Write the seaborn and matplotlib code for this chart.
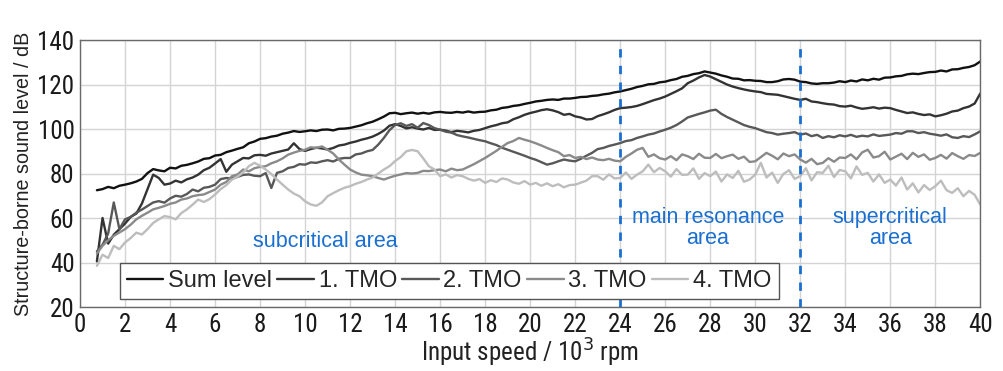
import numpy as np
import pandas as pd
import matplotlib
matplotlib.use("Agg")
import matplotlib.pyplot as plt
import seaborn as sns
from matplotlib import font_manager

# Input speed in 10^3 rpm (0.25 steps from 0.75 to 40)
speed = np.arange(0.75, 40.001, 0.25)

sum_level = [
    72.5, 73.0, 74.0, 73.4, 74.5,
    75.0, 75.6, 76.4, 77.6, 80.2, 82.0, 81.4, 81.0,
    82.6, 82.3, 83.5, 83.9, 84.6, 85.4, 86.6, 86.9,
    88.1, 88.4, 89.6, 90.3, 91.1, 91.8, 93.6, 94.4,
    95.6, 95.9, 96.6, 97.0, 97.9, 98.4, 99.1, 98.7,
    99.0, 99.4, 99.1, 99.7, 99.8, 99.4, 100.1, 100.2,
    100.5, 101.1, 101.7, 102.6, 103.3, 104.4, 105.6, 107.1,
    107.3, 106.7, 107.1, 107.4, 106.9, 107.3, 106.9, 107.5,
    107.7, 107.4, 107.3, 107.7, 107.4, 107.9, 107.4, 107.7,
    107.8, 108.4, 108.7, 109.5, 109.8, 110.4, 110.7, 111.3,
    111.8, 112.4, 112.7, 113.1, 113.3, 113.1, 113.7, 113.7,
    114.0, 114.4, 114.5, 114.9, 115.1, 115.6, 115.9, 116.5,
    116.9, 117.5, 118.1, 118.9, 119.4, 120.1, 120.3, 121.0,
    121.3, 122.0, 122.5, 123.5, 123.9, 124.7, 125.1, 125.9,
    125.4, 124.9, 124.1, 123.5, 122.7, 122.6, 121.9, 122.0,
    121.7, 121.6, 121.1, 121.1, 121.5, 122.3, 122.5, 122.2,
    121.3, 121.1, 120.5, 120.3, 120.6, 120.6, 120.9, 121.5,
    121.1, 121.8, 121.4, 122.3, 121.9, 122.6, 122.2, 123.1,
    123.2, 123.7, 123.9, 124.6, 124.9, 124.7, 125.2, 125.6,
    125.7, 126.3, 125.9, 126.8, 126.9, 127.5, 127.9, 128.7,
    130.4,
]

tmo_1 = [
    40.5, 60.0, 48.5, 52.5, 55.0,
    57.5, 60.5, 62.0, 66.5, 73.0, 79.5, 78.0, 75.0,
    75.5, 76.8, 76.0, 77.4, 78.2, 79.5, 81.5, 82.6,
    84.5, 86.5, 80.8, 84.0, 85.5, 87.0, 86.8, 88.2,
    88.4, 88.0, 89.0, 89.6, 90.2, 90.8, 93.6, 91.0,
    90.2, 91.0, 91.6, 91.3, 90.8, 91.5, 92.6, 93.0,
    93.8, 94.4, 95.2, 95.8, 96.6, 97.8, 99.3, 101.5,
    102.2, 101.4, 100.3, 100.8, 100.2, 99.8, 100.5, 99.6,
    99.7, 99.3, 98.6, 99.2, 98.9, 98.5, 99.2, 99.6,
    100.4, 101.2, 101.8, 102.6, 103.0, 104.4, 105.3, 106.4,
    107.2, 107.8, 108.5, 108.9, 108.4, 107.6, 106.4, 106.8,
    105.7, 105.2, 104.3, 104.5, 105.8, 106.6, 107.5, 108.6,
    109.4, 109.6, 109.9, 110.4, 111.2, 112.1, 113.0, 113.7,
    114.6, 115.8, 117.0, 118.3, 120.6, 121.8, 123.2, 124.3,
    123.6, 122.4, 121.2, 120.0, 119.1, 118.4, 117.8, 117.3,
    116.9, 116.6, 115.8, 115.6, 115.4, 114.8, 114.2, 113.6,
    113.1, 113.6, 112.4, 112.1, 111.6, 111.2, 111.0, 110.3,
    110.1, 110.5, 109.7, 109.1, 109.4, 109.8, 109.2, 109.6,
    109.4, 108.6, 107.9, 107.2, 107.5, 106.8, 106.3, 106.6,
    105.7, 106.2, 106.9, 107.9, 108.3, 109.4, 110.1, 111.5,
    116.0,
]

tmo_2 = [
    45.0, 48.0, 53.0, 67.0, 55.0,
    59.4, 60.5, 62.4, 63.8, 65.4, 67.0, 67.6, 66.9,
    68.8, 70.0, 69.6, 70.8, 72.8, 72.0, 73.6, 74.0,
    75.0, 77.5, 78.0, 77.8, 78.5, 79.4, 79.6, 79.0,
    78.8, 80.2, 73.5, 80.3, 81.0, 82.5, 83.0, 84.2,
    84.0, 85.0, 84.8, 85.5, 86.0, 85.4, 86.6, 87.0,
    87.0, 88.6, 89.0, 90.0, 90.6, 93.0, 96.0, 99.5,
    101.8, 102.6, 101.4, 102.2, 100.6, 102.7, 101.8, 100.4,
    99.7, 98.8, 98.4, 97.3, 96.7, 96.2, 95.6, 95.0,
    94.5, 93.6, 92.8, 91.6, 90.7, 89.8, 88.9, 88.0,
    87.0, 86.2, 85.1, 84.0, 84.6, 85.5, 86.3, 85.8,
    85.5, 86.6, 88.0, 89.3, 91.0, 91.5, 92.4, 93.0,
    93.7, 94.6, 95.0, 96.0, 96.7, 97.5, 98.0, 98.9,
    99.7, 100.6, 101.8, 103.4, 105.2, 106.0, 106.8, 107.5,
    108.3, 108.7, 106.8, 105.4, 104.2, 103.0, 101.8, 101.0,
    100.4, 99.5, 98.6, 98.2, 97.5, 97.9, 98.2, 98.6,
    97.5, 98.0, 96.8, 97.4, 96.0, 96.8, 96.3, 97.2,
    96.7, 97.4, 96.5, 97.0, 96.7, 97.6, 96.9, 97.2,
    97.5, 98.2, 97.9, 99.0, 99.0, 98.2, 98.6, 97.9,
    97.5, 97.0, 97.6, 96.3, 96.0, 96.8, 96.4, 97.6,
    99.0,
]

tmo_3 = [
    44.0, 47.5, 50.0, 52.0, 53.5,
    55.0, 57.0, 59.4, 61.0, 62.4, 63.9, 64.6, 65.4,
    66.4, 67.0, 68.3, 68.8, 69.8, 70.3, 70.6, 71.7,
    72.8, 75.0, 76.2, 78.8, 79.6, 81.8, 81.0, 82.4,
    83.0, 83.3, 84.6, 85.5, 86.8, 88.5, 89.4, 90.2,
    90.7, 91.8, 91.5, 92.2, 90.7, 89.0, 86.3, 84.0,
    81.8, 80.5, 79.5, 79.2, 78.8, 78.0, 77.3, 78.2,
    79.0, 79.6, 80.2, 80.0, 80.3, 81.2, 81.1, 81.5,
    81.8, 81.0, 82.2, 81.5, 81.8, 83.0, 84.2, 85.6,
    87.0, 88.6, 90.2, 92.0, 93.7, 94.6, 96.0, 95.2,
    94.5, 93.6, 92.6, 91.5, 90.5, 89.6, 87.8, 88.3,
    87.0, 87.5, 86.5, 87.2, 86.3, 86.0, 86.6, 85.8,
    85.5, 87.5, 89.0, 90.7, 91.5, 87.5, 88.6, 86.9,
    86.3, 87.8, 86.0, 88.6, 87.8, 86.5, 88.9, 87.1,
    87.0, 88.8, 86.9, 87.8, 88.5, 86.6, 87.6, 85.2,
    85.5, 87.4, 89.3, 88.0, 86.4, 89.0, 87.8, 88.6,
    86.3, 84.9, 86.6, 84.2, 84.8, 86.9, 85.3, 87.2,
    87.0, 88.6, 86.4, 89.5, 90.7, 87.2, 87.8, 89.8,
    86.3, 87.6, 88.9, 86.5, 89.3, 87.5, 88.6, 86.2,
    87.0, 88.4, 86.7, 89.2, 87.8, 86.6, 88.3, 87.9,
    89.3,
]

tmo_4 = [
    38.5, 43.5, 42.0, 47.5, 46.0,
    49.0, 51.0, 53.4, 52.6, 55.0, 57.8, 59.4, 60.9,
    60.4, 59.4, 62.2, 63.9, 66.0, 68.3, 67.2, 68.5,
    70.6, 73.0, 74.8, 77.3, 78.6, 80.5, 83.3, 84.8,
    83.5, 81.8, 79.8, 77.3, 75.0, 72.8, 71.0, 69.8,
    67.5, 66.1, 65.5, 67.0, 69.8, 71.2, 72.5, 73.6,
    74.3, 75.4, 76.2, 77.3, 78.2, 80.0, 81.8, 83.3,
    85.6, 87.4, 90.0, 90.6, 90.0, 86.8, 83.3, 81.8,
    78.8, 79.6, 78.2, 79.3, 78.8, 77.6, 76.8, 77.5,
    75.8, 77.0, 76.2, 77.8, 77.3, 76.0, 75.4, 76.6,
    75.0, 75.8, 74.5, 75.6, 74.3, 75.2, 73.8, 74.8,
    75.0, 75.9, 76.8, 78.8, 78.8, 77.2, 79.6, 77.8,
    78.0, 80.5, 77.6, 79.5, 81.0, 84.0, 80.6, 82.5,
    81.0, 78.6, 82.0, 79.4, 79.5, 82.3, 77.6, 80.2,
    78.8, 80.9, 76.4, 79.6, 78.0, 81.2, 76.3, 77.3,
    79.5, 84.8, 78.2, 80.4, 75.8, 79.8, 81.5, 77.6,
    78.8, 82.4, 76.9, 80.6, 80.3, 83.5, 78.4, 81.6,
    81.0, 77.8, 83.2, 79.4, 80.3, 76.4, 79.6, 75.8,
    77.3, 74.6, 78.2, 72.8, 75.6, 71.5, 74.8, 72.6,
    74.3, 76.8, 72.5, 71.3, 73.4, 69.8, 72.2, 70.4,
    66.0,
]

series_names = ["Sum level", "1. TMO", "2. TMO", "3. TMO", "4. TMO"]
series_colors = ["#111111", "#333333", "#585858", "#8a8a8a", "#bdbdbd"]
x_ticks = list(range(0, 41, 2))
y_ticks = list(range(20, 141, 20))
area_bounds = [24, 32]
area_labels = ["subcritical area", "main resonance\narea", "supercritical\narea"]
area_label_x = [10.9, 27.9, 36.0]
area_label_y = [49.5, 55.5, 55.5]

df = pd.concat(
    [pd.DataFrame({"speed": speed, "level": vals, "order": name})
     for name, vals in zip(series_names, [sum_level, tmo_1, tmo_2, tmo_3, tmo_4])],
    ignore_index=True,
)

sns.set_theme(style="whitegrid")
plt.rcParams["font.family"] = ["Liberation Sans", "DejaVu Sans"]


def condensed_font():
    """Pick a narrow sans-serif face for the numeric axis text, if one exists."""
    files = [f.fname for f in font_manager.fontManager.ttflist]
    for key in ["LiberationSansNarrow-Regular", "RobotoCondensed-Regular",
                "OpenSans_Condensed-Regular", "OpenSansCondensed-Regular",
                "DejaVuSansCondensed.ttf"]:
        for path in files:
            if key in path:
                return font_manager.FontProperties(fname=path), True
    return font_manager.FontProperties(family="Liberation Sans"), False


num_font, is_narrow = condensed_font()

fig = plt.figure(figsize=(10.04, 3.71), dpi=100)
ax = fig.add_axes([0.0797, 0.1725, 0.8967, 0.7195])

sns.lineplot(
    data=df, x="speed", y="level", hue="order", hue_order=series_names,
    palette=dict(zip(series_names, series_colors)), estimator=None, sort=False,
    linewidth=1.7, ax=ax,
)

ax.set_xlim(0, 40)
ax.set_ylim(20, 140)
ax.set_xticks(x_ticks)
ax.set_yticks(y_ticks)
tick_size = 18 if is_narrow else 15.5
ax.set_xticklabels([str(t) for t in x_ticks], fontproperties=num_font, fontsize=tick_size)
ax.set_yticklabels([str(t) for t in y_ticks], fontproperties=num_font, fontsize=tick_size)
ax.grid(True, color="#d4d4d4", linewidth=1.0)
ax.set_facecolor("white")
for sp in ax.spines.values():
    sp.set_color("#6a6a6a")
    sp.set_linewidth(1.0)
ax.tick_params(axis="both", direction="in", length=4, color="#6a6a6a", labelcolor="#1a1a1a")
ax.tick_params(axis="x", pad=4)
ax.tick_params(axis="y", pad=4)

ax.set_xlabel("Input speed / 10$^3$ rpm", fontproperties=num_font,
              fontsize=tick_size, color="#222222", labelpad=0)
ax.set_ylabel("Structure-borne sound level / dB", fontsize=14.2, color="#222222",
              labelpad=3)

for b in area_bounds:
    ax.axvline(b, color="#1b6fd1", linestyle=(0, (3, 3)), linewidth=2.0, zorder=3)

for txt, tx, ty in zip(area_labels, area_label_x, area_label_y):
    ax.text(tx, ty, txt, color="#1b6fd1", fontsize=15.5, ha="center", va="center",
            linespacing=1.0)

leg = ax.legend(
    loc="lower left", bbox_to_anchor=(0.044, 0.03), ncol=5, fontsize=17,
    handlelength=1.55, handletextpad=0.2, columnspacing=0.22, borderpad=0.3,
    borderaxespad=0.0, frameon=True, fancybox=False, framealpha=1.0,
    edgecolor="#555555",
)
leg.get_frame().set_linewidth(1.0)
for line in leg.get_lines():
    line.set_linewidth(1.7)

fig.savefig("out.png", dpi=100, facecolor="white")
